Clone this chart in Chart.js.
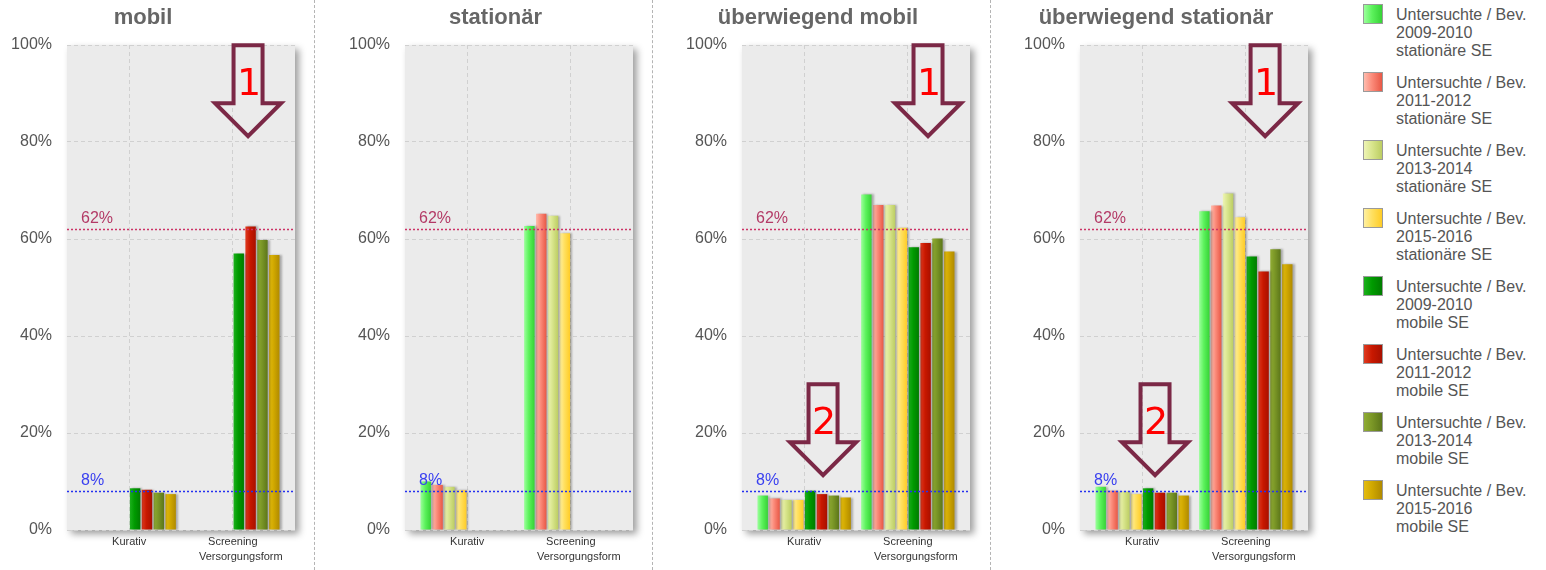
<!DOCTYPE html>
<html>
<head>
<meta charset="utf-8">
<title>Untersuchte / Bevölkerung nach Versorgungsform</title>
<script src="https://cdn.jsdelivr.net/npm/chart.js@4/dist/chart.umd.min.js"></script>
<style>
  html, body { margin: 0; padding: 0; background: #fff; }
  #page { position: relative; width: 1546px; height: 570px; overflow: hidden; }
  #page canvas { position: absolute; top: 0; }
  .panel-title {
    position: absolute; top: 5px; transform: translateX(-50%);
    font: bold 22px/24px "Liberation Sans", Arial, sans-serif; color: #666; white-space: nowrap;
  }
  .sep { position: absolute; top: 0; height: 570px; width: 0; border-left: 1px dashed #b4b4b4; }
  #legend { position: absolute; left: 1363px; top: 4px; width: 183px; height: 560px; }
  .lg-item { position: absolute; left: 0; width: 183px; height: 60px; }
  .lg-box { position: absolute; left: 0; top: 0; width: 18px; height: 18px; border: 1px solid #9a9a9a; }
  .lg-text {
    position: absolute; left: 33px; top: 2px;
    font: 16px/18px "Liberation Sans", Arial, sans-serif; color: #555; white-space: nowrap;
  }
</style>
</head>
<body>
<div id="page">
  <canvas id="c0" width="312" height="570" style="left:0px"></canvas>
  <canvas id="c1" width="312" height="570" style="left:338px"></canvas>
  <canvas id="c2" width="312" height="570" style="left:675px"></canvas>
  <canvas id="c3" width="312" height="570" style="left:1013px"></canvas>
  <div class="sep" style="left:314px"></div>
  <div class="sep" style="left:652px"></div>
  <div class="sep" style="left:990px"></div>
  <div id="legend"></div>
</div>
<script>
// ---- categories, ticks, series ----
const categories = ['Kurativ', 'Screening'];
const xAxisTitle = 'Versorgungsform';
const yTickValues = [0, 20, 40, 60, 80, 100];
const panelTitles = ['mobil', 'stationär', 'überwiegend mobil', 'überwiegend stationär'];
const measureLabel = 'Untersuchte / Bev.';
const periods = ['2009-2010', '2011-2012', '2013-2014', '2015-2016'];
const siteTypes = ['stationäre SE', 'mobile SE'];

// ---- values in % (order: 4 periods stationäre SE, then 4 periods mobile SE) ----
const mobilKurativ        = [null, null, null, null, 8.6, 8.3, 7.7, 7.4];
const mobilScreening      = [null, null, null, null, 57.0, 62.6, 59.8, 56.7];
const stationaerKurativ   = [10.0, 9.3, 8.9, 8.2, null, null, null, null];
const stationaerScreening = [62.7, 65.2, 64.8, 61.2, null, null, null, null];
const uebMobilKurativ     = [7.1, 6.5, 6.2, 6.2, 8.1, 7.4, 7.1, 6.7];
const uebMobilScreening   = [69.2, 67.0, 67.0, 62.3, 58.3, 59.2, 60.1, 57.4];
const uebStatKurativ      = [8.9, 8.1, 7.9, 7.4, 8.6, 7.7, 7.7, 7.1];
const uebStatScreening    = [65.7, 66.9, 69.4, 64.5, 56.4, 53.3, 57.9, 54.8];

// reference levels
const targetValues = [62, 8];
const targetLabels = ['62%', '8%'];

// ---- styling ----
const FONT = '"Liberation Sans", Arial, sans-serif';
const seriesColors = [
  ['#9cff9c', '#5cf25c', '#36d236'],
  ['#ffbcae', '#fb8a79', '#e85846'],
  ['#eef4b4', '#d8e58c', '#bccd62'],
  ['#fff0a0', '#ffe060', '#ffcc26'],
  ['#1cb01c', '#009a00', '#007c00'],
  ['#e03a20', '#c81800', '#a81000'],
  ['#90ac34', '#7a9626', '#5c761a'],
  ['#e4bc10', '#d0a800', '#b08a00']
];
const targetLineColors = ['#cc3366', '#2530f0'];
const targetTextColors = ['#b33a66', '#3a40f0'];

const seriesLabels = [];
siteTypes.forEach(site => periods.forEach(p => seriesLabels.push(measureLabel + ' ' + p + ' ' + site)));

const panelValues = [
  [mobilKurativ, mobilScreening],
  [stationaerKurativ, stationaerScreening],
  [uebMobilKurativ, uebMobilScreening],
  [uebStatKurativ, uebStatScreening]
];

// arrow call-outs, placed in data coordinates (x: category axis units, y: %)
const callouts = [
  [{ x: 1.147, y: 81.2, text: '1' }],
  [],
  [{ x: 1.195, y: 81.2, text: '1' }, { x: 0.182, y: 11.3, text: '2' }],
  [{ x: 1.186, y: 81.2, text: '1' }, { x: 0.124, y: 11.3, text: '2' }]
];

Chart.defaults.font.family = FONT;

function barFill(c) {
  const [light, mid, dark] = seriesColors[c.datasetIndex];
  const el = c.element;
  if (!el || !Number.isFinite(el.x) || !el.width) return mid;
  const g = c.chart.ctx.createLinearGradient(el.x - el.width / 2, 0, el.x + el.width / 2, 0);
  g.addColorStop(0, light);
  g.addColorStop(0.45, mid);
  g.addColorStop(1, dark);
  return g;
}

// grey plot area with a soft drop shadow
const plotBackdrop = {
  id: 'plotBackdrop',
  beforeDraw(chart) {
    const { ctx, chartArea: a } = chart;
    ctx.save();
    ctx.shadowColor = 'rgba(0,0,0,0.38)';
    ctx.shadowBlur = 7;
    ctx.shadowOffsetX = 4;
    ctx.shadowOffsetY = 4;
    ctx.fillStyle = '#ebebeb';
    ctx.fillRect(a.left, a.top, a.width, a.height);
    ctx.restore();
  }
};

// small shadow behind each bar
const barShadow = {
  id: 'barShadow',
  beforeDatasetsDraw(chart) {
    const ctx = chart.ctx;
    ctx.save();
    ctx.shadowColor = 'rgba(0,0,0,0.28)';
    ctx.shadowBlur = 2;
    ctx.shadowOffsetX = 2;
    ctx.shadowOffsetY = 0;
  },
  afterDatasetsDraw(chart) {
    chart.ctx.restore();
  }
};

// dotted reference lines, axis title, arrow call-outs
const overlays = {
  id: 'overlays',
  afterDraw(chart, args, opts) {
    const { ctx, chartArea: a, scales: { x, y } } = chart;
    ctx.save();
    targetValues.forEach((v, i) => {
      const py = Math.round(y.getPixelForValue(v)) + 0.5;
      ctx.beginPath();
      ctx.setLineDash([2, 2]);
      ctx.lineWidth = 1.4;
      ctx.strokeStyle = targetLineColors[i];
      ctx.moveTo(a.left, py);
      ctx.lineTo(a.right, py);
      ctx.stroke();
      ctx.setLineDash([]);
      ctx.font = '16px ' + FONT;
      ctx.fillStyle = targetTextColors[i];
      ctx.textAlign = 'left';
      ctx.textBaseline = 'alphabetic';
      ctx.fillText(targetLabels[i], a.left + 14, py - 7);
    });

    ctx.font = '11px ' + FONT;
    ctx.fillStyle = '#333';
    ctx.textAlign = 'center';
    ctx.textBaseline = 'alphabetic';
    ctx.fillText(xAxisTitle, x.getPixelForValue(categories.length - 1) + 8, 560);

    (opts.items || []).forEach(c => {
      const tx = x.getPixelForValue(c.x);
      const ty = y.getPixelForValue(c.y);
      const shaft = 14.5, wing = 33, head = 33, len = 91;
      ctx.beginPath();
      ctx.moveTo(tx - shaft, ty - len);
      ctx.lineTo(tx + shaft, ty - len);
      ctx.lineTo(tx + shaft, ty - head);
      ctx.lineTo(tx + wing, ty - head);
      ctx.lineTo(tx, ty);
      ctx.lineTo(tx - wing, ty - head);
      ctx.lineTo(tx - shaft, ty - head);
      ctx.closePath();
      ctx.lineWidth = 4;
      ctx.lineJoin = 'miter';
      ctx.strokeStyle = '#7b2846';
      ctx.stroke();
      ctx.font = '38px "DejaVu Sans", sans-serif';
      ctx.fillStyle = '#ff0000';
      ctx.textAlign = 'center';
      ctx.textBaseline = 'middle';
      ctx.fillText(c.text, tx + 1, ty - 51);
    });
    ctx.restore();
  }
};

function makePanel(p) {
  const [kur, scr] = panelValues[p];
  const datasets = seriesLabels.map((label, s) => ({
    label,
    data: [kur[s], scr[s]],
    backgroundColor: barFill,
    borderWidth: 0,
    categoryPercentage: 0.915,
    barPercentage: 0.88
  }));
  const chart = new Chart(document.getElementById('c' + p), {
    type: 'bar',
    data: { labels: categories.map((_, i) => i), datasets },
    options: {
      responsive: false,
      animation: false,
      devicePixelRatio: 1,
      layout: { padding: { top: 45, left: 7, right: 17, bottom: 0 } },
      plugins: {
        legend: { display: false },
        tooltip: { enabled: false },
        title: { display: false },
        overlays: { items: callouts[p] }
      },
      scales: {
        x: {
          type: 'linear',
          min: -0.6,
          max: categories.length - 1 + 0.6,
          offset: false,
          afterBuildTicks: s => { s.ticks = categories.map((_, i) => ({ value: i })); },
          afterFit: s => { s.height = 40; },
          grid: { color: '#d0d0d0', lineWidth: 1, drawTicks: false, offset: false },
          border: { display: false, dash: [4, 3] },
          ticks: {
            callback: v => categories[v] ?? '',
            font: { size: 11, family: FONT },
            color: '#333',
            padding: 5,
            maxRotation: 0,
            autoSkip: false
          }
        },
        y: {
          min: 0,
          max: 100,
          afterBuildTicks: s => { s.ticks = yTickValues.map(v => ({ value: v })); },
          afterFit: s => { s.width = 60; },
          grid: { color: '#d0d0d0', lineWidth: 1, drawTicks: false },
          border: { display: false, dash: [4, 3] },
          ticks: {
            callback: v => v + '%',
            font: { size: 16, family: FONT },
            color: '#555',
            padding: 15
          }
        }
      }
    },
    plugins: [plotBackdrop, barShadow, overlays]
  });
  chart.update('none');
  return chart;
}

const page = document.getElementById('page');
const titleCenters = [143, 495.5, 818, 1156];
panelTitles.forEach((t, p) => {
  makePanel(p);
  const d = document.createElement('div');
  d.className = 'panel-title';
  d.style.left = titleCenters[p] + 'px';
  d.textContent = t;
  page.appendChild(d);
});

// legend
const legend = document.getElementById('legend');
let k = 0;
siteTypes.forEach(site => periods.forEach(per => {
  const [light, mid, dark] = seriesColors[k];
  const item = document.createElement('div');
  item.className = 'lg-item';
  item.style.top = (k * 68) + 'px';
  const box = document.createElement('div');
  box.className = 'lg-box';
  box.style.background = 'linear-gradient(to right, ' + light + ', ' + mid + ' 45%, ' + dark + ')';
  const txt = document.createElement('div');
  txt.className = 'lg-text';
  [measureLabel, per, site].forEach((line, i) => {
    if (i) txt.appendChild(document.createElement('br'));
    txt.appendChild(document.createTextNode(line));
  });
  item.appendChild(box);
  item.appendChild(txt);
  legend.appendChild(item);
  k++;
}));
</script>
</body>
</html>
